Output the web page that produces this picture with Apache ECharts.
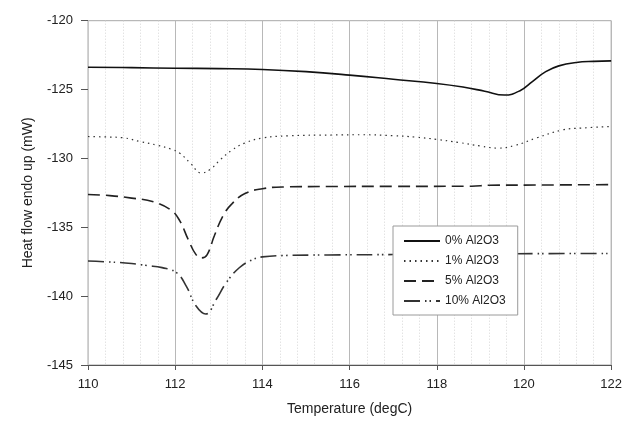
<!DOCTYPE html>
<html>
<head>
<meta charset="utf-8">
<script src="https://cdn.jsdelivr.net/npm/echarts@6/dist/echarts.min.js"></script>
<style>
html,body{margin:0;padding:0;background:#fff;}
#chart{width:625px;height:423px;}
</style>
</head>
<body>
<div id="chart"></div>
<script>
const seriesNames = ["0% Al2O3", "1% Al2O3", "5% Al2O3", "10% Al2O3"];
const xTicks = [110, 112, 114, 116, 118, 120, 122];
const yTicks = [-145, -140, -135, -130, -125, -120];

const temp0 = [110, 111, 112, 113, 114, 115, 116, 117, 118, 118.6, 119.1, 119.55, 119.9, 120.2, 120.5, 120.8, 121.2, 121.6, 122];
const heat0 = [-123.38, -123.41, -123.45, -123.48, -123.54, -123.7, -123.95, -124.25, -124.56, -124.82, -125.12, -125.4, -125.1, -124.4, -123.7, -123.28, -123.03, -122.95, -122.92];

const temp1 = [110, 110.4, 110.8, 111.2, 111.6, 111.9, 112.1, 112.35, 112.6, 112.8, 113.05, 113.3, 113.6, 114, 114.6, 115.6, 116.3, 117, 117.5, 118, 118.5, 119, 119.4, 119.8, 120.3, 120.9, 121.3, 122];
const heat1 = [-128.41, -128.44, -128.5, -128.78, -129.05, -129.32, -129.61, -130.35, -131.06, -130.8, -130.05, -129.4, -128.88, -128.52, -128.36, -128.3, -128.28, -128.35, -128.45, -128.62, -128.84, -129.1, -129.25, -129.05, -128.5, -127.92, -127.8, -127.68];

const temp5 = [110, 110.5, 111, 111.5, 111.9, 112.1, 112.3, 112.47, 112.6, 112.73, 112.9, 113.1, 113.3, 113.6, 114, 114.5, 115.5, 117, 118.8, 119.2, 120.5, 122];
const heat5 = [-132.62, -132.7, -132.88, -133.15, -133.75, -134.5, -135.9, -136.95, -137.22, -137.0, -135.6, -134.15, -133.3, -132.55, -132.2, -132.07, -132.04, -132.03, -132.02, -131.95, -131.93, -131.9];

const temp10 = [110, 110.5, 111, 111.35, 111.7, 112.03, 112.25, 112.48, 112.7, 112.94, 113.17, 113.47, 113.78, 114, 114.5, 115.5, 117, 119, 122];
const heat10 = [-137.45, -137.52, -137.63, -137.78, -137.93, -138.3, -139.25, -140.72, -141.3, -140.24, -139.03, -137.94, -137.34, -137.15, -137.05, -137.01, -136.98, -136.93, -136.9];

const pairs = (xs, ys) => xs.map((x, i) => [x, ys[i]]);
const FONT = '"Liberation Sans", Arial, sans-serif';

const chart = echarts.init(document.getElementById('chart'), null, {renderer: 'canvas'});

function mkSeries(name, xs, ys, color, width, type) {
  return {
    name: name,
    type: 'line',
    data: pairs(xs, ys),
    symbol: 'none',
    showSymbol: false,
    smooth: 0.45,
    lineStyle: {color: color, width: width, type: type},
    itemStyle: {color: color},
    emphasis: {disabled: true},
    animation: false
  };
}

chart.setOption({
  animation: false,
  backgroundColor: '#fff',
  textStyle: {fontFamily: FONT},
  grid: {
    left: 88, right: 12, top: 20.7, bottom: 58,
    show: true, borderColor: '#a8a8a8', borderWidth: 1, backgroundColor: 'transparent'
  },
  legend: {
    left: 393, top: 226,
    orient: 'vertical',
    backgroundColor: '#fff',
    borderColor: '#9a9a9a', borderWidth: 1,
    padding: [9, 12, 8, 10],
    itemWidth: 36, itemHeight: 10, itemGap: 8,
    itemStyle: {opacity: 0},
    textStyle: {fontFamily: FONT, fontSize: 12, color: '#222'},
    data: seriesNames
  },
  xAxis: {
    type: 'value',
    min: xTicks[0], max: xTicks[xTicks.length - 1], interval: 2,
    name: 'Temperature (degC)',
    nameLocation: 'middle', nameGap: 37,
    nameTextStyle: {fontFamily: FONT, fontSize: 14, color: '#222'},
    axisLine: {show: true, onZero: false, lineStyle: {color: '#555', width: 1}},
    axisTick: {show: true, inside: false, length: 5, lineStyle: {color: '#555'}},
    axisLabel: {margin: 13, fontSize: 13, color: '#222', fontFamily: FONT},
    splitLine: {show: true, lineStyle: {color: '#b8b8b8', width: 1}},
    minorTick: {show: false, splitNumber: 5},
    minorSplitLine: {show: true, lineStyle: {color: '#d6d6d6', width: 1, type: [1, 2]}}
  },
  yAxis: {
    type: 'value',
    min: yTicks[0], max: yTicks[yTicks.length - 1], interval: 5,
    name: 'Heat flow endo up (mW)',
    nameLocation: 'middle', nameGap: 53,
    nameTextStyle: {fontFamily: FONT, fontSize: 14, color: '#222'},
    axisLine: {show: true, onZero: false, lineStyle: {color: '#c8c8c8', width: 1}},
    axisTick: {show: true, inside: false, length: 7, lineStyle: {color: '#555'}},
    axisLabel: {margin: 15, fontSize: 13, color: '#222', fontFamily: FONT},
    splitLine: {show: false}
  },
  series: [
    mkSeries(seriesNames[0], temp0, heat0, '#111', 1.6, 'solid'),
    mkSeries(seriesNames[1], temp1, heat1, '#333', 1.2, [1.5, 4]),
    mkSeries(seriesNames[2], temp5, heat5, '#222', 1.6, [12, 6]),
    mkSeries(seriesNames[3], temp10, heat10, '#333', 1.6, [16, 5, 1.5, 3, 1.5, 5])
  ]
});
</script>
</body>
</html>
